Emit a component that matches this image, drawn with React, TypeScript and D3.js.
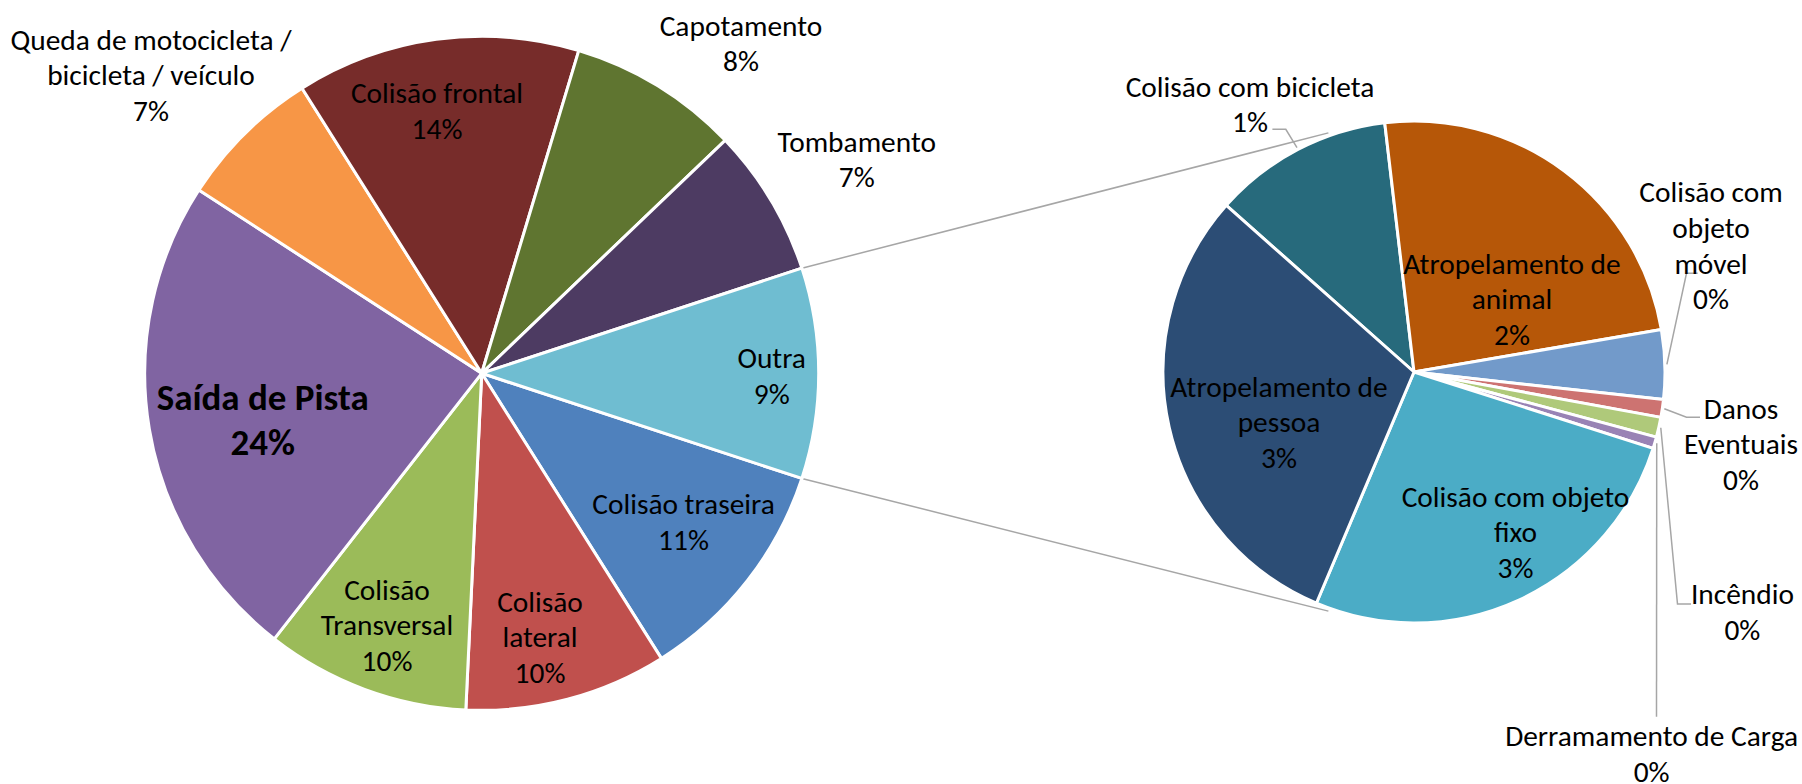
import React from 'react';
import * as d3 from 'd3';

// main pie, clockwise from the end of the "Outra" slice
const mainCategories = [
  'Colisão traseira',
  'Colisão\nlateral',
  'Colisão\nTransversal',
  'Saída de Pista',
  'Queda de motocicleta /\nbicicleta / veículo',
  'Colisão frontal',
  'Capotamento',
  'Tombamento',
];
const mainValues = [11.0, 9.7, 9.8, 23.6, 6.9, 13.6, 8.2, 7.1];
const mainPctLabels = ['11%', '10%', '10%', '24%', '7%', '14%', '8%', '7%'];
const mainColors = ['#4F81BD', '#C0504D', '#9BBB59', '#8064A2', '#F79646', '#772C2A', '#5F7530', '#4D3B62'];

const otherCategory = 'Outra';
const otherPctLabel = '9%';
const otherColor = '#6FBDD1';

// secondary pie (breakdown of "Outra"), clockwise
const subCategories = [
  'Colisão com bicicleta',
  'Atropelamento de\nanimal',
  'Colisão com\nobjeto\nmóvel',
  'Danos\nEventuais',
  'Incêndio',
  'Derramamento de Carga',
  'Colisão com objeto\nfixo',
  'Atropelamento de\npessoa',
];
const subValues = [1.17, 2.44, 0.45, 0.115, 0.13, 0.075, 2.67, 3.05];
const subPctLabels = ['1%', '2%', '0%', '0%', '0%', '0%', '3%', '3%'];
const subColors = ['#276A7C', '#B65708', '#729ACA', '#CD7371', '#AFC97A', '#9983B5', '#4BACC6', '#2C4D75'];

// layout
const W = 1802;
const H = 784;
const FONT = "Carlito, Calibri, 'Liberation Sans Narrow', 'DejaVu Sans Condensed', 'Open Sans', sans-serif";
const FS = 29.4;
const C1 = { x: 481.7, y: 373.3 };
const R1 = 337;
const C2 = { x: 1414, y: 372 };
const R2 = 251;
const deg = Math.PI / 180;

const mainLabelPos = [
  [201.8, 149.2], [58.3, 264.7], [-94.7, 252.7], [-219, 47.5],
  [-330.7, -297.3], [-44.7, -261.6], [259.3, -329.1], [375, -213.3],
];
const otherLabelPos = [290, 3];
const subLabelPos = [
  [-164, -267], [98, -72], [297, -125.7], [327, 72.8],
  [328.4, 240.8], [237.6, 382.5], [101.5, 160.7], [-135, 51],
];
// leader line points (relative to secondary centre), last point is the slice edge
const subLeaders: Record<number, number[][]> = {
  0: [[-141.6, -242.7], [-128.2, -242.7]],
  2: [[283.7, -98.7], [272.5, -98.7]],
  3: [[286, 45.3], [272.5, 45.3]],
  4: [[277, 232], [263.5, 232]],
  5: [[242.5, 344.7]],
};
const connectorAngle = 19.7; // degrees from vertical on the secondary pie

const polar = (c: { x: number; y: number }, a: number, r: number) => [c.x + r * Math.sin(a), c.y - r * Math.cos(a)];

function Label({ x, y, lines, size = FS, bold = false, lh = 35.6 }: any) {
  const y0 = y - ((lines.length - 1) * lh) / 2 + size * 0.32;
  return (
    <text textAnchor="middle" fontSize={size} fontWeight={bold ? 700 : 400} fontFamily={FONT} fill="#000">
      {lines.map((l: string, i: number) => (
        <tspan key={i} x={x} y={y0 + i * lh}>{l}</tspan>
      ))}
    </text>
  );
}

export default function App() {
  const otherValue = d3.sum(subValues);
  const otherAngle = (otherValue / (d3.sum(mainValues) + otherValue)) * 2 * Math.PI;
  const start = Math.PI / 2 + otherAngle / 2;

  const mainData = [
    ...mainCategories.map((c, i) => ({ name: c, value: mainValues[i], pct: mainPctLabels[i], color: mainColors[i] })),
    { name: otherCategory, value: otherValue, pct: otherPctLabel, color: otherColor },
  ];
  const mainPie = d3.pie<any>().sort(null).value((d) => d.value).startAngle(start).endAngle(start + 2 * Math.PI)(mainData);
  const mainArc = d3.arc<any>().innerRadius(0).outerRadius(R1);

  const subData = subCategories.map((c, i) => ({ name: c, value: subValues[i], pct: subPctLabels[i], color: subColors[i] }));
  const subStart = -48.4 * deg;
  const subPie = d3.pie<any>().sort(null).value((d) => d.value).startAngle(subStart).endAngle(subStart + 2 * Math.PI)(subData);
  const subArc = d3.arc<any>().innerRadius(0).outerRadius(R2);

  const other = mainPie[mainPie.length - 1];
  const pTop = polar(C1, other.startAngle, R1);
  const pBot = polar(C1, other.endAngle, R1);
  const qTop = polar(C2, -connectorAngle * deg, R2 + 3);
  const qBot = polar(C2, Math.PI + connectorAngle * deg, R2 + 3);

  const line = d3.line();

  return (
    <svg width={W} height={H} style={{ position: 'absolute', left: 0, top: 0, background: '#fff' }}>
      <g stroke="#A6A6A6" strokeWidth={1.5} fill="none">
        <path d={line([pTop as [number, number], qTop as [number, number]]) || ''} />
        <path d={line([pBot as [number, number], qBot as [number, number]]) || ''} />
      </g>
      <g transform={`translate(${C1.x},${C1.y})`}>
        {mainPie.map((s, i) => (
          <path key={i} d={mainArc(s) || ''} fill={s.data.color} stroke="#fff" strokeWidth={3} strokeLinejoin="round" />
        ))}
      </g>
      <g transform={`translate(${C2.x},${C2.y})`}>
        {subPie.map((s, i) => (
          <path key={i} d={subArc(s) || ''} fill={s.data.color} stroke="#fff" strokeWidth={3} strokeLinejoin="round" />
        ))}
      </g>
      <g stroke="#A6A6A6" strokeWidth={1.5} fill="none">
        {subPie.map((s, i) => {
          const pts = subLeaders[i];
          if (!pts) return null;
          const mid = (s.startAngle + s.endAngle) / 2;
          const edge = polar(C2, mid, R2 + 2);
          const all = [...pts.map((p) => [C2.x + p[0], C2.y + p[1]]), edge] as [number, number][];
          return <path key={i} d={line(all) || ''} />;
        })}
      </g>
      {mainPie.slice(0, mainCategories.length).map((s, i) => (
        <Label
          key={i}
          x={C1.x + mainLabelPos[i][0]}
          y={C1.y + mainLabelPos[i][1]}
          lines={[...s.data.name.split('\n'), s.data.pct]}
          bold={i === 3}
          size={i === 3 ? 37 : FS}
          lh={i === 3 ? 45 : 35.6}
        />
      ))}
      <Label x={C1.x + otherLabelPos[0]} y={C1.y + otherLabelPos[1]} lines={[otherCategory, otherPctLabel]} />
      {subPie.map((s, i) => (
        <Label
          key={i}
          x={C2.x + subLabelPos[i][0]}
          y={C2.y + subLabelPos[i][1]}
          lines={[...s.data.name.split('\n'), s.data.pct]}
        />
      ))}
    </svg>
  );
}
